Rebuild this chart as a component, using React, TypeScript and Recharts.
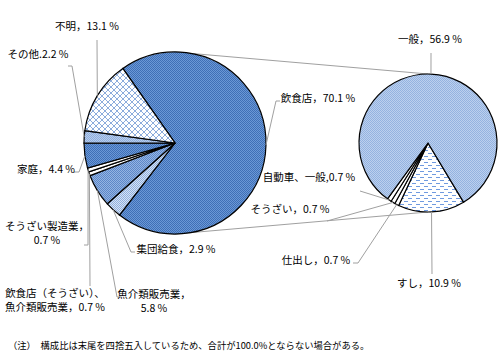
import { Cell, Customized, Pie, PieChart } from 'recharts'

// 左の円：原因施設別
const leftNames = ['飲食店', '集団給食', '魚介類販売業', '飲食店（そうざい）、魚介類販売業', 'そうざい製造業', '家庭', 'その他', '不明']
const leftValues = [70.1, 2.9, 5.8, 0.7, 0.7, 4.4, 2.2, 13.1]
const leftLabels = [
  ['飲食店，70.1 %'],
  ['集団給食，2.9 %'],
  ['魚介類販売業，', '5.8 %'],
  ['飲食店（そうざい）、', '魚介類販売業，0.7 %'],
  ['そうざい製造業，', '0.7 %'],
  ['家庭，4.4 %'],
  ['その他.2.2 %'],
  ['不明，13.1 %'],
]

// 右の円：飲食店の内訳
const rightNames = ['すし', '仕出し', 'そうざい', '自動車、一般', '一般']
const rightValues = [10.9, 0.7, 0.7, 0.7, 56.9]
const rightLabels = [
  ['すし，10.9 %'],
  ['仕出し，0.7 %'],
  ['そうざい，0.7 %'],
  ['自動車、一般,0.7 %'],
  ['一般，56.9 %'],
]

const note = '（注）　構成比は末尾を四捨五入しているため、合計が100.0%とならない場合がある。'

const leftData = leftNames.map((name, i) => ({ name, value: leftValues[i] }))
const rightData = rightNames.map((name, i) => ({ name, value: rightValues[i] }))

// layout
const L = { cx: 175, cy: 143, r: 91 }
const R = { cx: 428, cy: 143, r: 69 }
const FONT = '"Noto Sans CJK JP", "Noto Sans", sans-serif'
const LEADER = '#a0a0a0'

const leftFills = ['url(#pDark)', 'url(#pLight)', 'url(#pMid)', '#fff', '#fff', 'url(#pDark)', 'url(#pPale)', 'url(#pCross)']
const rightFills = ['url(#pDash)', '#fff', '#fff', '#fff', 'url(#pPale2)']

// label placement: text centre, then leader points from text toward slice
const leftPos = [
  { x: 318, y: 97, pts: [[280, 101], [276, 101]] },
  { x: 176, y: 248, pts: [[135, 252], [131, 252]] },
  { x: 154, y: 293, pts: [[121, 297], [117, 297]] },
  { x: 55, y: 292, pts: [[90, 286]] },
  { x: 47, y: 225, pts: [[84, 245], [88, 245]] },
  { x: 46, y: 168, pts: [[74, 172], [79, 172]] },
  { x: 38, y: 53, pts: [[68, 66], [72, 66]] },
  { x: 87, y: 25, pts: [[97, 40]] },
]
const rightPos = [
  { x: 429, y: 282, pts: [[432, 274]] },
  { x: 316, y: 259, pts: [[353, 263], [358, 263]] },
  { x: 290, y: 208, pts: [[327, 221]] },
  { x: 309, y: 176, pts: [[360, 191]] },
  { x: 430, y: 38, pts: [[431, 53]] },
]

const RAD = Math.PI / 180

const makeLabel = (pos: typeof leftPos, texts: string[][]) => (props: any) => {
  const { cx, cy, midAngle, outerRadius, index } = props
  const p = pos[index]
  const sx = cx + outerRadius * Math.cos(-midAngle * RAD)
  const sy = cy + outerRadius * Math.sin(-midAngle * RAD)
  const points = [...p.pts.map(([a, b]) => `${a},${b}`), `${sx},${sy}`].join(' ')
  return (
    <g key={`lbl-${index}`}>
      <polyline points={points} fill="none" stroke={LEADER} strokeWidth={1} />
      {texts[index].map((t, k) => (
        <text key={k} x={p.x} y={p.y + k * 14} textAnchor="middle" dominantBaseline="central"
          fontSize={10.5} fontFamily={FONT} fill="#000">
          {t}
        </text>
      ))}
    </g>
  )
}

const Backdrop = () => (
  <g>
    <defs>
      <pattern id="pDark" width="2" height="2" patternUnits="userSpaceOnUse">
        <rect width="2" height="2" fill="#6b98d6" />
        <rect width="1" height="1" fill="#3f6fb6" />
        <rect x="1" y="1" width="1" height="1" fill="#3f6fb6" />
      </pattern>
      <pattern id="pMid" width="2" height="2" patternUnits="userSpaceOnUse">
        <rect width="2" height="2" fill="#94b4e2" />
        <rect width="1" height="1" fill="#5d87c8" />
        <rect x="1" y="1" width="1" height="1" fill="#5d87c8" />
      </pattern>
      <pattern id="pLight" width="2" height="2" patternUnits="userSpaceOnUse">
        <rect width="2" height="2" fill="#d6e2f4" />
        <rect width="1" height="1" fill="#8fb0de" />
        <rect x="1" y="1" width="1" height="1" fill="#8fb0de" />
      </pattern>
      <pattern id="pPale" width="2" height="2" patternUnits="userSpaceOnUse">
        <rect width="2" height="2" fill="#b8cdec" />
        <rect width="1" height="1" fill="#8eaedd" />
        <rect x="1" y="1" width="1" height="1" fill="#8eaedd" />
      </pattern>
      <pattern id="pPale2" width="2" height="2" patternUnits="userSpaceOnUse">
        <rect width="2" height="2" fill="#bcd0ee" />
        <rect width="1" height="1" fill="#94b3e0" />
        <rect x="1" y="1" width="1" height="1" fill="#94b3e0" />
      </pattern>
      <pattern id="pCross" width="6" height="6" patternUnits="userSpaceOnUse">
        <rect width="6" height="6" fill="#fff" />
        <path d="M0,0 L6,6 M6,0 L0,6" stroke="#8cacdc" strokeWidth="1" />
      </pattern>
      <pattern id="pDash" width="8" height="6" patternUnits="userSpaceOnUse">
        <rect width="8" height="6" fill="#fff" />
        <rect x="0" y="0" width="4" height="1" fill="#6f9ae0" />
        <rect x="4" y="3" width="4" height="1" fill="#6f9ae0" />
      </pattern>
    </defs>
    <line x1={L.cx} y1={L.cy - L.r} x2={R.cx} y2={R.cy - R.r} stroke={LEADER} strokeWidth={1} />
    <line x1={L.cx} y1={L.cy + L.r} x2={R.cx} y2={R.cy + R.r} stroke={LEADER} strokeWidth={1} />
    <text x={8} y={345} dominantBaseline="central" fontSize={9.3} fontFamily={FONT} fill="#000">
      {note}
    </text>
  </g>
)

export default function App() {
  return (
    <div style={{ position: 'absolute', left: 0, top: 0, width: 500, height: 356, background: '#fff' }}>
      <PieChart width={500} height={356} margin={{ top: 0, right: 0, bottom: 0, left: 0 }}>
        <Customized component={Backdrop} />
        <Pie
          data={leftData}
          dataKey="value"
          nameKey="name"
          cx={L.cx}
          cy={L.cy}
          outerRadius={L.r}
          startAngle={125}
          endAngle={-235}
          stroke="#000"
          strokeWidth={1.2}
          label={makeLabel(leftPos, leftLabels)}
          labelLine={false}
          isAnimationActive={false}
        >
          {leftData.map((d, i) => <Cell key={d.name} fill={leftFills[i]} />)}
        </Pie>
        <Pie
          data={rightData}
          dataKey="value"
          nameKey="name"
          cx={R.cx}
          cy={R.cy}
          outerRadius={R.r}
          startAngle={-59}
          endAngle={-419}
          stroke="#000"
          strokeWidth={1.2}
          label={makeLabel(rightPos, rightLabels)}
          labelLine={false}
          isAnimationActive={false}
        >
          {rightData.map((d, i) => <Cell key={d.name} fill={rightFills[i]} />)}
        </Pie>
      </PieChart>
    </div>
  )
}
